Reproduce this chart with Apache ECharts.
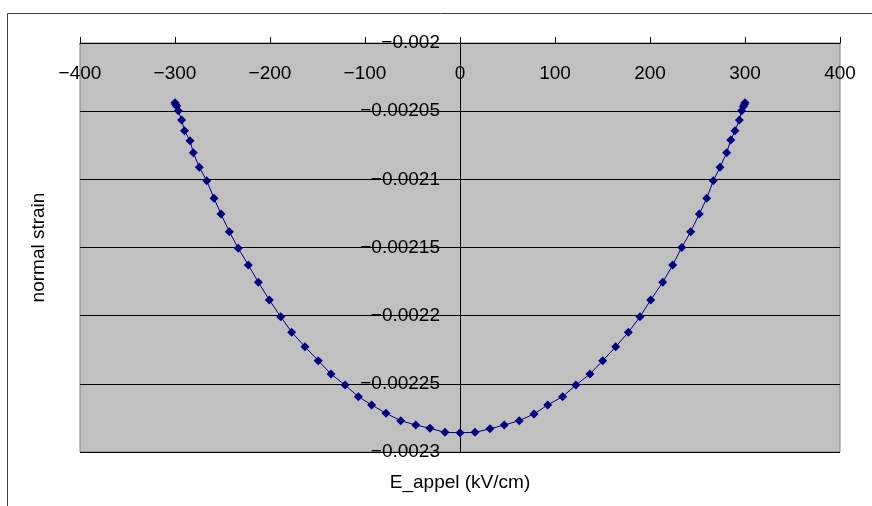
<!DOCTYPE html>
<html>
<head>
<meta charset="utf-8">
<script src="https://cdn.jsdelivr.net/npm/echarts@6/dist/echarts.min.js"></script>
<style>
html,body{margin:0;padding:0;background:#fff;}
#chart{width:872px;height:506px;}
</style>
</head>
<body>
<div id="chart"></div>
<script>
// E_appel (kV/cm)
const eField = [-300, -299.5, -298.2, -296.5, -293, -290, -284.2, -280.7, -274.4, -266.6, -258.9, -251.6, -242.8, -233.4, -222.8, -212.3, -200.7, -188.7, -177.2, -163.2, -149.2, -135.8, -121, -107, -93, -77.9, -62.4, -46.6, -31.6, -15.8, 0, 15.8, 31.6, 46.6, 62.4, 77.9, 92.3, 108, 122, 136.8, 150.2, 163.9, 177.2, 189.5, 200.7, 213.4, 223.9, 233.4, 242.8, 251.9, 259.7, 266.6, 273.7, 280.7, 285, 289.5, 294, 296.5, 298.2, 299.5, 300];
// normal strain
const strain = [-0.0020438, -0.0020450, -0.0020462, -0.0020497, -0.0020565, -0.0020643, -0.0020717, -0.0020805, -0.0020912, -0.0021010, -0.0021139, -0.0021254, -0.0021384, -0.0021506, -0.0021628, -0.0021755, -0.0021885, -0.0022008, -0.0022121, -0.0022228, -0.0022330, -0.0022428, -0.0022509, -0.0022594, -0.0022655, -0.0022716, -0.0022770, -0.0022802, -0.0022826, -0.0022856, -0.0022858, -0.0022856, -0.0022830, -0.0022802, -0.0022770, -0.0022721, -0.0022655, -0.0022594, -0.0022509, -0.0022428, -0.0022330, -0.0022228, -0.0022122, -0.0022008, -0.0021885, -0.0021755, -0.0021628, -0.0021500, -0.0021384, -0.0021254, -0.0021139, -0.0021010, -0.0020912, -0.0020805, -0.0020712, -0.0020643, -0.0020565, -0.0020497, -0.0020465, -0.0020450, -0.0020438];
// axis settings
const xMin = -400, xMax = 400, xStep = 100;
const yMin = -0.0023, yMax = -0.002, yStep = 0.00005;
const xTitle = 'E_appel (kV/cm)';
const yTitle = 'normal strain';

const FONT = '"Liberation Sans", Arial, sans-serif';
const fmtNum = v => {
  const r = Number(v.toFixed(6));
  return r < 0 ? '\u2212' + String(Math.abs(r)) : String(r);
};

const GRID_LEFT = 80, GRID_W = 760;
// y axis crosses the x axis at E = 0
const yAxisShift = -GRID_W * (0 - xMin) / (xMax - xMin);

const chart = echarts.init(document.getElementById('chart'), null, {renderer: 'canvas'});
chart.setOption({
  animation: false,
  backgroundColor: '#ffffff',
  textStyle: {fontFamily: FONT},
  graphic: [{
    type: 'rect', x: 7.5, y: 13.5, z: -10, silent: true,
    shape: {x: 0, y: 0, width: 900, height: 600},
    style: {fill: 'none', stroke: '#404040', lineWidth: 1}
  }],
  grid: {
    left: GRID_LEFT, top: 43, width: GRID_W, height: 409,
    outerBoundsMode: 'none', containLabel: false,
    show: true, backgroundColor: '#c0c0c0', borderColor: '#808080', borderWidth: 1, z: 0
  },
  xAxis: [{
    type: 'value', position: 'top', min: xMin, max: xMax, interval: xStep,
    z: 1,
    axisLine: {onZero: false, lineStyle: {color: '#000', width: 1}},
    axisTick: {show: true, inside: false, length: 6, lineStyle: {color: '#000'}},
    axisLabel: {inside: true, margin: 21, color: '#000', fontSize: 19, fontFamily: FONT, formatter: fmtNum},
    splitLine: {show: false}
  }, {
    type: 'value', position: 'bottom', min: xMin, max: xMax, interval: xStep,
    axisLine: {show: false, onZero: false}, axisTick: {show: false}, axisLabel: {show: false}, splitLine: {show: false},
    name: xTitle, nameLocation: 'middle', nameGap: 21,
    nameTextStyle: {color: '#000', fontSize: 19, fontFamily: FONT}
  }],
  yAxis: [{
    type: 'value', position: 'left', offset: yAxisShift, min: yMin, max: yMax, interval: yStep,
    z: 1,
    axisLine: {onZero: false, lineStyle: {color: '#000', width: 1}},
    axisTick: {show: true, inside: true, length: 5, lineStyle: {color: '#000'}},
    axisLabel: {margin: 20, color: '#000', fontSize: 19, fontFamily: FONT, formatter: fmtNum},
    splitLine: {show: false}
  }, {
    type: 'value', min: yMin, max: yMax, interval: yStep, position: 'left',
    z: 2,
    axisLine: {show: false, onZero: false}, axisTick: {show: false}, axisLabel: {show: false},
    splitLine: {show: true, lineStyle: {color: '#000', width: 1}},
    name: yTitle, nameLocation: 'middle', nameGap: 32, nameRotate: 90,
    nameTextStyle: {color: '#000', fontSize: 19, fontFamily: FONT}
  }],
  series: [{
    type: 'line', xAxisIndex: 0, yAxisIndex: 0, z: 5,
    data: eField.map((e, i) => [e, strain[i]]),
    symbol: 'diamond', symbolSize: 9,
    itemStyle: {color: '#000080'},
    lineStyle: {color: '#000080', width: 1},
    clip: false
  }]
});
</script>
</body>
</html>
